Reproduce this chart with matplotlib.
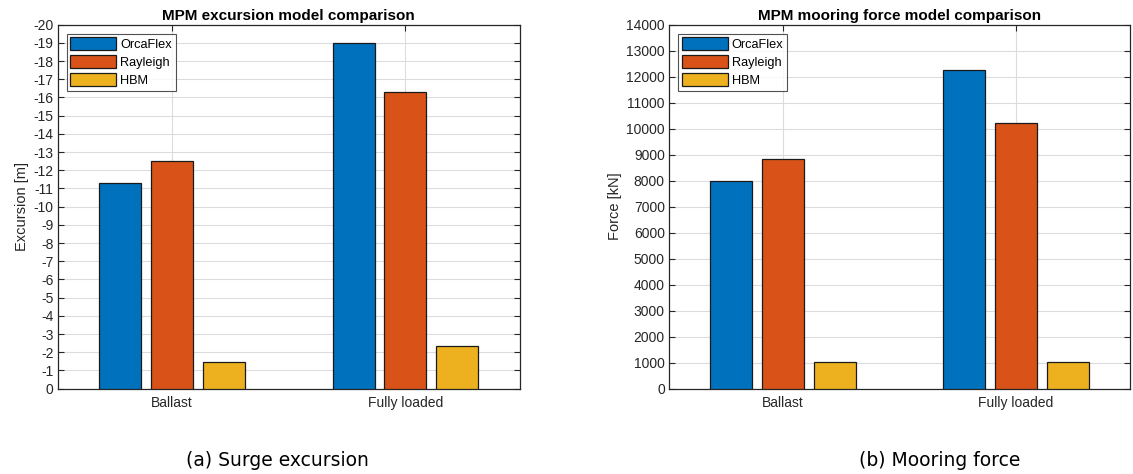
import numpy as np
import matplotlib
matplotlib.use('Agg')
import matplotlib.pyplot as plt

plt.rcParams.update({
    'font.family': ['Liberation Sans', 'DejaVu Sans'],
    'axes.edgecolor': '#262626',
    'axes.unicode_minus': False,
    'xtick.color': '#262626',
    'ytick.color': '#262626',
    'text.color': '#000000',
})

# ---- data ----
cases = ['Ballast', 'Fully loaded']
models = ['OrcaFlex', 'Rayleigh', 'HBM']
colors = ['#0072BD', '#D95319', '#EDB120']

excursion_orcaflex = [-11.3, -19.0]
excursion_rayleigh = [-12.5, -16.3]
excursion_hbm = [-1.45, -2.35]

force_orcaflex = [7980, 12250]
force_rayleigh = [8820, 10200]
force_hbm = [1040, 1020]

excursion_ticks = list(range(0, -21, -1))
force_ticks = list(range(0, 14001, 1000))

_BAR_WIDTH = 0.18
_BAR_STEP = 0.222
_TICK_FS = 10
_LABEL_FS = 10.5
_TITLE_FS = 11
_LEGEND_FS = 9.2
_CAPTION_FS = 13.5


def draw_panel(ax, series, ticks, ylim, ylabel, title, invert):
    x = np.arange(1, len(cases) + 1)
    for i, (vals, name, c) in enumerate(zip(series, models, colors)):
        ax.bar(x + (i - 1) * _BAR_STEP, vals, width=_BAR_WIDTH, color=c,
               edgecolor='#1a1a1a', linewidth=0.9, label=name, zorder=3)
    ax.set_xlim(0.51, 2.49)
    ax.set_ylim(*ylim)
    if invert:
        ax.invert_yaxis()
    ax.set_xticks(x)
    ax.set_xticklabels(cases)
    ax.set_yticks(ticks)
    ax.tick_params(axis='both', direction='in', length=4, width=0.8,
                   labelsize=_TICK_FS, top=True, right=True, pad=3)
    ax.tick_params(axis='x', pad=5)
    ax.grid(True, color='#dcdcdc', linewidth=0.8, zorder=0)
    ax.set_axisbelow(True)
    for s in ax.spines.values():
        s.set_linewidth(0.9)
    ax.set_ylabel(ylabel, fontsize=_LABEL_FS, color='#262626', labelpad=3)
    ax.set_title(title, fontsize=_TITLE_FS, fontweight='bold', pad=3)
    leg = ax.legend(loc='upper left', fontsize=_LEGEND_FS, frameon=True, fancybox=False,
                    edgecolor='#262626', handlelength=3.6, handleheight=1.1,
                    handletextpad=0.3, borderpad=0.3, labelspacing=0.35,
                    borderaxespad=0.7)
    leg.get_frame().set_linewidth(0.8)


fig = plt.figure(figsize=(11.33, 4.74), dpi=100)
ax1 = fig.add_axes([0.0508, 0.180, 0.408, 0.768])
ax2 = fig.add_axes([0.5905, 0.180, 0.4069, 0.768])

draw_panel(ax1, [excursion_orcaflex, excursion_rayleigh, excursion_hbm],
           excursion_ticks, (-20, 0), 'Excursion [m]',
           'MPM excursion model comparison', invert=True)
draw_panel(ax2, [force_orcaflex, force_rayleigh, force_hbm],
           force_ticks, (0, 14000), 'Force [kN]',
           'MPM mooring force model comparison', invert=False)

fig.text(277 / 1133, 1 - 460 / 474, '(a) Surge excursion', ha='center', va='center',
         fontsize=_CAPTION_FS, family=['DejaVu Sans'])
fig.text(940 / 1133, 1 - 460 / 474, '(b) Mooring force', ha='center', va='center',
         fontsize=_CAPTION_FS, family=['DejaVu Sans'])

fig.savefig('out.png', dpi=100)
plt.close(fig)
